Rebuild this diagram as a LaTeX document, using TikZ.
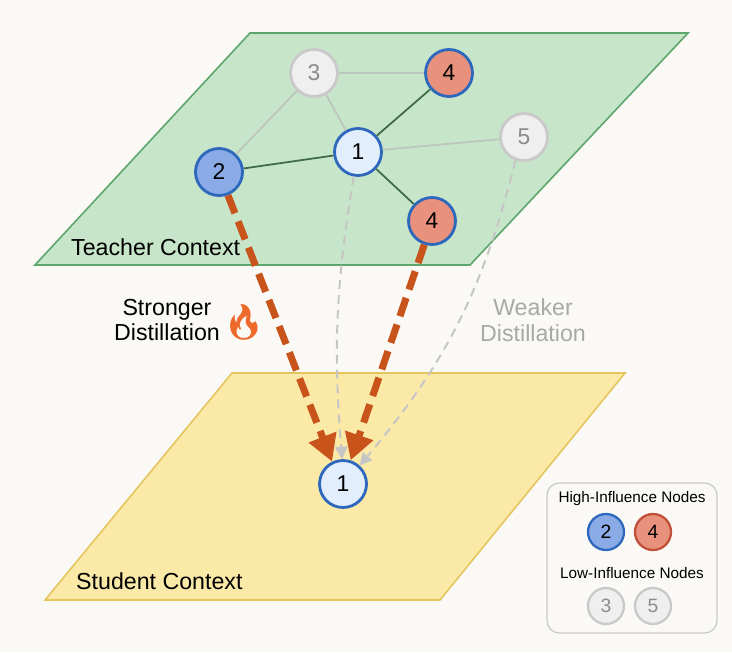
\documentclass[tikz,border=0pt]{standalone}
\usepackage{fontspec}
\setmainfont{Liberation Sans}
\newfontfamily\emojifont{Noto Emoji}
\usetikzlibrary{arrows.meta,calc}

\definecolor{bgcol}{HTML}{FAF9F5}
\definecolor{teachfill}{HTML}{C6E5C9}
\definecolor{teachline}{HTML}{5EA56B}
\definecolor{studfill}{HTML}{FBE9A8}
\definecolor{studline}{HTML}{E5C55E}
\definecolor{edgedark}{HTML}{3F6A4A}
\definecolor{edgelight}{HTML}{BCC6BD}
\definecolor{bluefill}{HTML}{8AABE6}
\definecolor{blueline}{HTML}{2E68BD}
\definecolor{centfill}{HTML}{E2EEFB}
\definecolor{redfill}{HTML}{E8917C}
\definecolor{redline}{HTML}{C2503B}
\definecolor{grayfill}{HTML}{EFEFEF}
\definecolor{grayline}{HTML}{C9C9C9}
\definecolor{graytext}{HTML}{8C8C8C}
\definecolor{strongcol}{HTML}{C9541B}
\definecolor{weakcol}{HTML}{C5C5C5}
\definecolor{weaktext}{HTML}{A8A8A8}
\definecolor{firecol}{HTML}{EE6A2C}

\tikzset{
  netnode/.style={circle,minimum size=0.94cm,inner sep=0pt,line width=1.6pt,font=\fontsize{13}{14}\selectfont},
  centnode/.style={netnode,draw=blueline,fill=centfill},
  bluenode/.style={netnode,draw=blueline,fill=bluefill},
  rednode/.style={netnode,draw=blueline,fill=redfill},
  lownode/.style={netnode,draw=grayline,fill=grayfill,text=graytext},
  legnode/.style={circle,minimum size=0.72cm,inner sep=0pt,line width=1.3pt,font=\fontsize{11}{12}\selectfont},
  strongarrow/.style={strongcol,line width=4pt,dash pattern=on 11pt off 5pt,-{Triangle[width=16pt,length=15pt]}},
  weakarrow/.style={weakcol,line width=1.1pt,dash pattern=on 5pt off 3.5pt,-{Triangle[width=7pt,length=7pt]}},
  bigtext/.style={font=\fontsize{13.2}{14.5}\selectfont,align=center},
  smalltext/.style={font=\fontsize{8.7}{10}\selectfont}
}

\begin{document}
\begin{tikzpicture}[x=0.02cm,y=-0.02cm]
  %背景
    \fill[bgcol](0,0)rectangle(732,652);
    \useasboundingbox(0,0)rectangle(732,652);
  %两个平面
    \draw[teachline,fill=teachfill,line width=0.9pt](250,33)--(688,33)--(470,265)--(35,265)--cycle;
    \draw[studline,fill=studfill,line width=0.9pt](232,373)--(625,373)--(440,600)--(45,600)--cycle;
    \node[bigtext,anchor=west](tlabel)at(65,247){Teacher Context};
    \node[bigtext,anchor=west](slabel)at(70,581){Student Context};
  %教师图的节点
    \node[centnode](t1)at(358,152){1};
    \node[lownode](t3)at(314,73){3};
    \node[rednode](t4a)at(449,73){4};
    \node[lownode](t5)at(524,137){5};
    \node[bluenode](t2)at(219,172){2};
    \node[rednode](t4b)at(432,221){4};
  %教师图的边
    \draw[edgelight,line width=1pt](t2)--(t3);
    \draw[edgelight,line width=1pt](t3)--(t1);
    \draw[edgelight,line width=1pt](t3)--(t4a);
    \draw[edgelight,line width=1pt](t1)--(t5);
    \draw[edgedark,line width=1pt](t2)--(t1);
    \draw[edgedark,line width=1pt](t1)--(t4a);
    \draw[edgedark,line width=1pt](t1)--(t4b);
  %学生节点
    \node[centnode](s1)at(343,484){1};
  %蒸馏箭头
    \draw[weakarrow](t1.-100)to[bend right=7](s1.92);
    \draw[weakarrow](t5.-110)to[bend left=13](s1.48);
    \draw[strongarrow](t2.-69)--(s1.116);
    \draw[strongarrow](t4b.-108)--(s1.72);
  %说明文字
    \node[bigtext](strong)at(167,320){Stronger\\Distillation};
    \node[font=\fontsize{20}{22}\selectfont,text=firecol](fire)at(244,322){\emojifont 🔥};
    \node[bigtext,text=weaktext](weak)at(533,320){Weaker\\Distillation};
  %图例
    \node[draw=grayline,fill=bgcol,rounded corners=7pt,line width=0.7pt,minimum width=3.4cm,minimum height=3cm](legend)at(632,558){};
    \node[smalltext](hilabel)at(632,499){High-Influence Nodes};
    \node[legnode,draw=blueline,fill=bluefill](l2)at(606,532){2};
    \node[legnode,draw=redline,fill=redfill](l4)at(653,532){4};
    \node[smalltext](lolabel)at(632,573){Low-Influence Nodes};
    \node[legnode,draw=grayline,fill=grayfill,text=graytext](l3)at(606,606){3};
    \node[legnode,draw=grayline,fill=grayfill,text=graytext](l5)at(653,606){5};
\end{tikzpicture}
\end{document}
